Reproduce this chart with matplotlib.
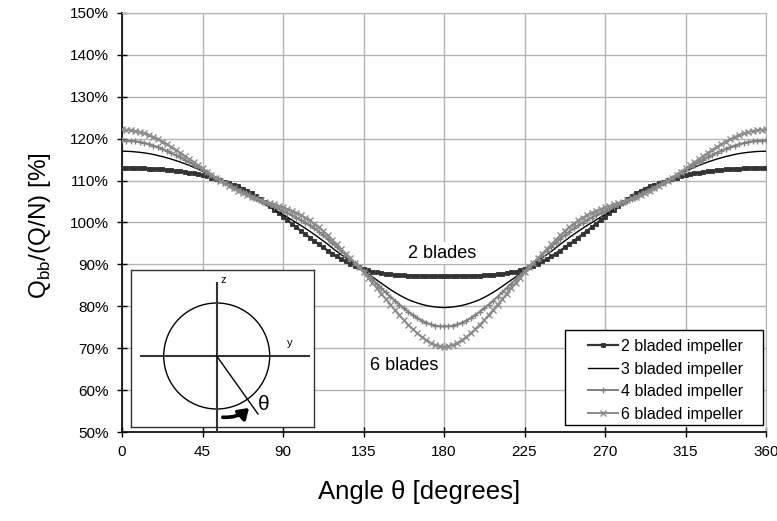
import numpy as np
import matplotlib
matplotlib.use("Agg")
import matplotlib.pyplot as plt
from matplotlib.patches import Circle, FancyArrowPatch, Rectangle

plt.rcParams['font.family'] = ['Liberation Sans', 'DejaVu Sans']

# Angles (degrees) for one half-period, 0..180 in 2.5 deg steps;
# the curves are symmetric about 180 deg
half_angles = [i * 2.5 for i in range(73)]

q_2_blades = [113.0, 113.0, 113.0, 112.98, 112.95, 112.9, 112.85, 112.8, 112.75, 112.65,
              112.55, 112.45, 112.35, 112.2, 112.05, 111.9, 111.7, 111.5, 111.25, 111.0,
              110.7, 110.4, 110.1, 109.75, 109.4, 109.0, 108.6, 108.1, 107.6, 107.0,
              106.3, 105.6, 104.8, 103.95, 103.1, 102.25, 101.4, 100.55, 99.7, 98.85,
              98.0, 97.2, 96.4, 95.6, 94.8, 94.05, 93.3, 92.6, 91.9, 91.3,
              90.7, 90.2, 89.7, 89.3, 88.9, 88.6, 88.3, 88.1, 87.9, 87.75,
              87.6, 87.5, 87.45, 87.4, 87.35, 87.32, 87.3, 87.27, 87.25, 87.22,
              87.2, 87.2, 87.2]
q_3_blades = [117.0, 116.99, 116.95, 116.86, 116.75, 116.61, 116.45, 116.24, 116.0, 115.74,
              115.45, 115.14, 114.8, 114.44, 114.05, 113.64, 113.2, 112.74, 112.25, 111.74,
              111.2, 110.66, 110.1, 109.53, 108.95, 108.38, 107.8, 107.2, 106.6, 106.02,
              105.45, 104.88, 104.3, 103.7, 103.1, 102.5, 101.9, 101.25, 100.6, 99.95,
              99.3, 98.6, 97.9, 97.15, 96.4, 95.6, 94.8, 93.95, 93.1, 92.35,
              91.6, 90.85, 90.1, 89.35, 88.6, 87.8, 87.0, 86.25, 85.5, 84.75,
              84.0, 83.33, 82.7, 82.13, 81.6, 81.18, 80.8, 80.48, 80.2, 80.0,
              79.85, 79.74, 79.7]
q_4_blades = [119.6, 119.57, 119.5, 119.37, 119.2, 118.97, 118.7, 118.37, 118.0, 117.57,
              117.1, 116.62, 116.1, 115.56, 115.0, 114.41, 113.8, 113.2, 112.6, 111.95,
              111.3, 110.7, 110.1, 109.5, 108.9, 108.35, 107.8, 107.25, 106.7, 106.2,
              105.7, 105.2, 104.7, 104.2, 103.7, 103.2, 102.7, 102.2, 101.7, 101.17,
              100.6, 99.97, 99.3, 98.57, 97.8, 96.97, 96.1, 95.17, 94.2, 93.25,
              92.3, 91.35, 90.4, 89.45, 88.5, 87.45, 86.4, 85.35, 84.3, 83.3,
              82.3, 81.33, 80.4, 79.53, 78.7, 77.92, 77.2, 76.6, 76.1, 75.7,
              75.4, 75.25, 75.2]
q_6_blades = [122.2, 122.15, 122.0, 121.83, 121.6, 121.28, 120.9, 120.43, 119.9, 119.32,
              118.7, 118.07, 117.4, 116.66, 115.9, 115.15, 114.4, 113.65, 112.9, 112.15,
              111.4, 110.7, 110.0, 109.33, 108.7, 108.13, 107.6, 107.08, 106.6, 106.18,
              105.8, 105.4, 105.0, 104.65, 104.3, 103.95, 103.6, 103.22, 102.8, 102.33,
              101.8, 101.18, 100.5, 99.73, 98.9, 97.98, 97.0, 95.93, 94.8, 93.73,
              92.6, 91.5, 90.4, 89.27, 88.1, 86.87, 85.6, 84.3, 83.0, 81.7,
              80.4, 79.13, 77.9, 76.72, 75.6, 74.57, 73.6, 72.72, 71.9, 71.3,
              70.8, 70.48, 70.3]

series_labels = ["2 bladed impeller", "3 bladed impeller", "4 bladed impeller", "6 bladed impeller"]
x_ticks = [0, 45, 90, 135, 180, 225, 270, 315, 360]
y_ticks = [50, 60, 70, 80, 90, 100, 110, 120, 130, 140, 150]


def full_period(half):
    """Extend a 0-180 deg half-curve to 0-360 deg using its mirror symmetry."""
    half = np.asarray(half, dtype=float)
    return np.concatenate([half, half[-2::-1]])


half_arr = np.asarray(half_angles, dtype=float)
angles = np.concatenate([half_arr, 360.0 - half_arr[-2::-1]])

W, H = 777, 521
fig = plt.figure(figsize=(W / 100, H / 100), dpi=100)
ax = fig.add_axes([122 / W, 1 - 432 / H, 644 / W, 419 / H])

styles = [
    dict(color="#333333", lw=1.6, marker="s", ms=3.0, mew=0.6),
    dict(color="#000000", lw=1.0, marker=None),
    dict(color="#808080", lw=1.4, marker="+", ms=5, mew=1.0),
    dict(color="#8c8c8c", lw=1.4, marker="x", ms=4.2, mew=1.0),
]
for data, lab, st in zip([q_2_blades, q_3_blades, q_4_blades, q_6_blades], series_labels, styles):
    ax.plot(angles, full_period(data), label=lab, zorder=3, **st)

ax.set_xlim(0, 360)
ax.set_ylim(50, 150)
ax.set_xticks(x_ticks)
ax.set_yticks(y_ticks)
ax.set_xticklabels([str(t) for t in x_ticks], fontsize=11)
ax.set_yticklabels([f"{t}%" for t in y_ticks], fontsize=11)
ax.tick_params(direction="inout", length=7, width=1, color="black", pad=6)
ax.grid(True, color="#b4b4b4", lw=1.0, zorder=0)
for side in ("top", "right"):
    ax.spines[side].set_color("#b4b4b4")
for side in ("left", "bottom"):
    ax.spines[side].set_color("black")
    ax.spines[side].set_linewidth(1.2)

fig.text(419 / W, 1 - 492 / H, "Angle θ [degrees]", fontsize=18.5,
         ha="center", va="center")
fig.text(40 / W, 1 - 226 / H, "Q$_{\\mathregular{bb}}$/(Q/N) [%]", fontsize=17.5,
         ha="center", va="center", rotation=90)

ax.text(178.7, 92.7, "2 blades", fontsize=13, ha="center", va="center", zorder=2,
        bbox=dict(facecolor="white", edgecolor="none", pad=1.5))
ax.text(157.6, 65.8, "6 blades", fontsize=13, ha="center", va="center", zorder=2)

# Legend: white box with a wide left margin, entries placed inside it
ax.add_patch(Rectangle((565 / W, 1 - 425 / H), 198 / W, 95 / H, transform=fig.transFigure,
                       facecolor="white", edgecolor="black", lw=1.0, zorder=4,
                       clip_on=False))
leg = ax.legend(loc="upper left", bbox_to_anchor=(588 / W, 1 - 339 / H),
                bbox_transform=fig.transFigure, fontsize=11.5, frameon=False,
                borderpad=0, handlelength=1.85, handletextpad=0.2,
                labelspacing=0.47, borderaxespad=0)
leg.set_zorder(5)

# Sketch of the impeller coordinate system
ins = fig.add_axes([131 / W, 1 - 427 / H, 183 / W, 157 / H])
ins.set_xlim(0, 183)
ins.set_ylim(0, 157)
ins.set_xticks([])
ins.set_yticks([])
for s in ins.spines.values():
    s.set_color("#333333")
    s.set_linewidth(1.0)
cx, cy, r = 85.7, 71.0, 53.0
ins.add_patch(Circle((cx, cy), r, fill=False, lw=1.0, color="black"))
ins.plot([cx, cx], [-5, 144], color="#333333", lw=1.5, clip_on=False)
ins.plot([10, 178], [cy, cy], color="#333333", lw=1.5)
ins.plot([cx, 127], [cy, 13], color="black", lw=1.0)
ins.text(92, 147, "z", fontsize=8, ha="center", va="center")
ins.text(159, 84, "y", fontsize=8, ha="center", va="center")
ins.text(133, 23, "θ", fontsize=15, ha="center", va="center")
ins.add_patch(FancyArrowPatch((89, 10), (120, 21), connectionstyle="arc3,rad=0.25",
                              arrowstyle="-|>,head_length=6,head_width=4",
                              lw=2.6, color="black"))

fig.savefig("out.png", dpi=100)
